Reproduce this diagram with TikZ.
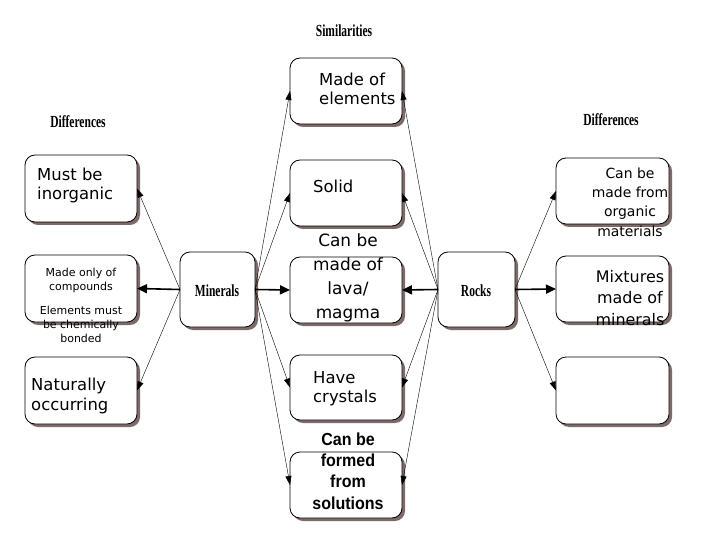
\documentclass[tikz,border=0pt]{standalone}
\usepackage{fontspec}
\setmainfont{DejaVu Sans}
\newfontfamily\headf{Liberation Serif}
\newfontfamily\boldf{Liberation Sans}
\usetikzlibrary{arrows.meta,shadows}
\definecolor{shad}{HTML}{7F6A6A}
\begin{document}
\begin{tikzpicture}[x=1bp,y=-1bp,
  box/.style={draw=black,line width=0.8bp,rounded corners=10bp,fill=white,
    drop shadow={shadow xshift=3bp,shadow yshift=-3bp,fill=shad,opacity=1}},
  txt/.style={inner sep=0,font=\fontsize{16.5}{19.5}\selectfont},
  sm/.style={inner sep=0,font=\fontsize{11}{14}\selectfont},
  head/.style={inner sep=0,font=\headf\bfseries\fontsize{17}{19}\selectfont,xscale=0.68,transform shape},
  thin/.style={line width=0.4bp,-{Triangle[length=9bp,width=6bp]}},
  thick/.style={line width=1.6bp,-{Triangle[length=10bp,width=9bp]}}]
\useasboundingbox (0,0) rectangle (720,540);
\fill[white] (0,0) rectangle (720,540);
\newcommand{\bx}[5]{\path[box] (#2,#3) rectangle (#4,#5);
  \coordinate (#1-w) at (#2,{(#3+#5)/2});
  \coordinate (#1-e) at (#4,{(#3+#5)/2});}
\bx{l1}{25}{155}{137}{222}
\bx{l2}{25}{255}{137}{322}
\bx{l3}{25}{357}{137}{424}
\bx{min}{180}{252}{255}{327}
\bx{m1}{290}{58}{402}{124}
\bx{m2}{290}{160}{402}{226}
\bx{m3}{290}{257}{402}{323}
\bx{m4}{290}{355}{402}{420}
\bx{m5}{290}{452}{402}{518}
\bx{rk}{438}{252}{515}{327}
\bx{r1}{556}{158}{669}{224}
\bx{r2}{556}{256}{669}{322}
\bx{r3}{556}{357}{669}{424}
% headings
\node[head] (hs) at (344,31) {Similarities};
\node[head] (hl) at (78,122) {Differences};
\node[head] (hr) at (611,120) {Differences};
\node[head] (tmin) at (217,291) {Minerals};
\node[head] (trk) at (476,291) {Rocks};
% texts
\node[txt,anchor=west,align=left] (t1) at (37,185.5) {Must be\\inorganic};
\node[sm,align=center] (t2a) at (81,280.5) {Made only of\\compounds};
\node[sm,align=center] (t2b) at (81,324.5) {Elements must\\be chemically\\bonded};
\node[txt,anchor=west,align=left] (t3) at (31,396) {Naturally\\occurring};
\node[txt,anchor=west,align=left] (tm1) at (319,89) {Made of\\elements};
\node[txt,anchor=west] (tm2) at (313,186) {Solid};
\node[txt,align=center,font=\fontsize{17}{24}\selectfont] (tm3) at (348,278) {Can be\\made of\\lava/\\magma};
\node[txt,anchor=west,align=left] (tm4) at (313,389) {Have\\crystals};
\node[inner sep=0,align=center,font=\boldf\bfseries\fontsize{17.5}{21.5}\selectfont,xscale=0.92,transform shape] (tm5) at (348,471) {Can be\\formed\\from\\solutions};
\node[inner sep=0,align=center,font=\fontsize{14}{19.3}\selectfont] (tr1) at (630,202) {Can be\\made from\\organic\\materials};
\node[txt,align=center,font=\fontsize{16}{21.5}\selectfont] (tr2) at (630,298) {Mixtures\\made of\\minerals};
% connectors
\draw[thin] (min-w) -- (l1-e);
\draw[thick] (min-w) -- (l2-e);
\draw[thin] (min-w) -- (l3-e);
\draw[thin] (min-e) -- (m1-w);
\draw[thin] (min-e) -- (m2-w);
\draw[thick] (min-e) -- (m3-w);
\draw[thin] (min-e) -- (m4-w);
\draw[thin] (min-e) -- (m5-w);
\draw[thin] (rk-w) -- (m1-e);
\draw[thin] (rk-w) -- (m2-e);
\draw[thick] (rk-w) -- (m3-e);
\draw[thin] (rk-w) -- (m4-e);
\draw[thin] (rk-w) -- (m5-e);
\draw[thin] (rk-e) -- (r1-w);
\draw[thick] (rk-e) -- (r2-w);
\draw[thin] (rk-e) -- (r3-w);
\end{tikzpicture}
\end{document}
